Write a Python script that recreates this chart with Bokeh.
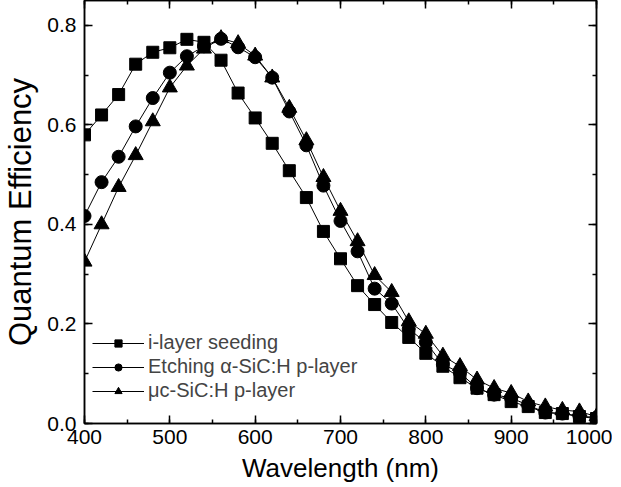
from bokeh.plotting import figure
from bokeh.models import (LinearAxis, Range1d, PrintfTickFormatter, Legend, LegendItem,
                          SingleIntervalTicker, CustomJSTickFormatter)
from bokeh.embed import file_html
from bokeh.resources import INLINE

wavelength = list(range(400, 1001, 20))
seeding = [0.580, 0.620, 0.661, 0.722, 0.746, 0.755, 0.772, 0.766, 0.730, 0.664,
           0.614, 0.563, 0.508, 0.454, 0.386, 0.331, 0.277, 0.239, 0.203, 0.173,
           0.141, 0.115, 0.092, 0.071, 0.058, 0.044, 0.034, 0.022, 0.020, 0.014, 0.010]
etching = [0.417, 0.485, 0.536, 0.597, 0.654, 0.705, 0.738, 0.758, 0.773, 0.756,
           0.736, 0.695, 0.627, 0.559, 0.478, 0.407, 0.346, 0.271, 0.241, 0.190,
           0.163, 0.119, 0.102, 0.071, 0.058, 0.051, 0.037, 0.022, 0.020, 0.015, 0.012]
muc = [0.325, 0.400, 0.475, 0.539, 0.607, 0.675, 0.719, 0.753, 0.774, 0.764,
       0.739, 0.695, 0.634, 0.569, 0.495, 0.427, 0.366, 0.298, 0.264, 0.205,
       0.180, 0.136, 0.115, 0.088, 0.071, 0.061, 0.044, 0.034, 0.027, 0.024, 0.014]
labels = ["i-layer seeding", "Etching \u03b1-SiC:H p-layer", "\u03bcc-SiC:H p-layer"]

FONT = "Liberation Sans"

p = figure(width=612, height=485, output_backend="svg", toolbar_location=None,
           x_range=Range1d(400, 1000), y_range=Range1d(0, 0.85),
           min_border_left=81, min_border_right=16, min_border_top=0, min_border_bottom=0)
p.grid.visible = False
p.outline_line_color = "black"
p.outline_line_width = 1.5

r1l = p.line(wavelength, seeding, line_color="black", line_width=1)
r1m = p.scatter(wavelength, seeding, marker="square", size=12, color="black")
r2l = p.line(wavelength, etching, line_color="black", line_width=1)
r2m = p.scatter(wavelength, etching, marker="circle", size=13, color="black")
r3l = p.line(wavelength, muc, line_color="black", line_width=1)
r3m = p.scatter(wavelength, muc, marker="triangle", size=15, color="black")

def tick_style(ax):
    ax.major_tick_in = 8
    ax.major_tick_out = 0
    ax.minor_tick_in = 4
    ax.minor_tick_out = 0
    ax.axis_line_width = 1.5
    ax.major_tick_line_width = 1.5
    ax.minor_tick_line_width = 1.5

xa = p.xaxis[0]
xa.ticker = SingleIntervalTicker(interval=100, num_minor_ticks=2)
ya = p.yaxis[0]
ya.ticker = SingleIntervalTicker(interval=0.2, num_minor_ticks=2)
ya.formatter = PrintfTickFormatter(format="%.1f")
for ax in (xa, ya):
    tick_style(ax)
    ax.major_label_text_font = FONT
    ax.major_label_text_font_size = "21px"
    ax.major_label_text_color = "black"
    ax.axis_label_text_font = FONT
    ax.axis_label_text_font_style = "normal"
    ax.axis_label_text_color = "black"
xa.axis_label = "Wavelength (nm)"
ya.axis_label = "Quantum Efficiency"
xa.axis_label_text_font_size = "26px"
ya.axis_label_text_font_size = "31px"
xa.major_label_standoff = 6
xa.axis_label_standoff = 6
ya.major_label_standoff = 8
ya.axis_label_standoff = 6

blank = CustomJSTickFormatter(code="return ''")
top = LinearAxis(ticker=SingleIntervalTicker(interval=100, num_minor_ticks=2), formatter=blank)
right = LinearAxis(ticker=SingleIntervalTicker(interval=0.2, num_minor_ticks=2), formatter=blank)
for ax in (top, right):
    tick_style(ax)
    ax.major_label_standoff = 0
p.add_layout(top, "above")
p.add_layout(right, "right")

legend = Legend(items=[LegendItem(label=labels[0], renderers=[r1l, r1m]),
                       LegendItem(label=labels[1], renderers=[r2l, r2m]),
                       LegendItem(label=labels[2], renderers=[r3l, r3m])],
                location=(4, 17))
legend.background_fill_alpha = 0
legend.border_line_alpha = 0
legend.label_text_font = FONT
legend.label_text_font_size = "20px"
legend.glyph_width = 52
legend.glyph_height = 18
legend.label_height = 18
legend.label_standoff = 4
legend.spacing = 1
legend.padding = 4
legend.margin = 0
p.add_layout(legend, "center")

open("out.html", "w").write(file_html(p, INLINE))
